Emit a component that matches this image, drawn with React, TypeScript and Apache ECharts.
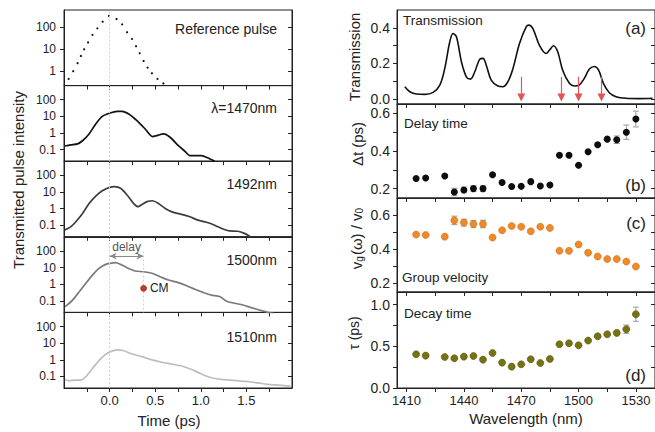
import React, { useEffect, useRef } from "react";
import * as echarts from "echarts";

const FONT = '"Liberation Sans", Arial, Helvetica, sans-serif';

// ---------- Left column: transmitted pulse intensity vs time ----------
const refTime = [-0.449, -0.399, -0.351, -0.315, -0.279, -0.236, -0.188, -0.134, -0.076, -0.007, 0.076, 0.138, 0.192, 0.246, 0.29, 0.33, 0.373, 0.417, 0.464, 0.525, 0.59];
const refIntensity = [0.45, 1.0, 2.3, 4.9, 9.8, 20, 44, 87, 174, 316, 229, 132, 58, 29, 13.5, 6.5, 2.9, 1.45, 0.81, 0.45, 0.28];

const time1470 = [-0.49, -0.478, -0.424, -0.351, -0.297, -0.225, -0.152, -0.08, 0.004, 0.083, 0.138, 0.21, 0.3, 0.39, 0.47, 0.518, 0.59, 0.663, 0.754, 0.826, 0.88, 0.935, 1.007, 1.08, 1.152];
const int1470 = [0.17, 0.17, 0.19, 0.22, 0.34, 0.87, 3.5, 10, 15.9, 20, 20, 13.8, 5.5, 1.73, 0.6, 0.69, 0.87, 0.55, 0.17, 0.079, 0.043, 0.043, 0.043, 0.031, 0.02];

const time1492 = [-0.49, -0.478, -0.424, -0.37, -0.297, -0.225, -0.152, -0.08, -0.007, 0.058, 0.12, 0.192, 0.264, 0.312, 0.355, 0.41, 0.47, 0.536, 0.609, 0.699, 0.79, 0.88, 0.971, 1.062, 1.152, 1.243, 1.315, 1.406, 1.478, 1.551];
const int1492 = [0.05, 0.056, 0.081, 0.16, 0.51, 2.0, 5.6, 11.7, 18.2, 20.9, 16.6, 6.5, 2.0, 1.29, 1.78, 2.6, 2.95, 2.0, 1.02, 0.59, 0.45, 0.32, 0.2, 0.15, 0.1, 0.059, 0.045, 0.043, 0.032, 0.019];

const time1500 = [-0.49, -0.478, -0.406, -0.333, -0.261, -0.188, -0.116, -0.043, 0.004, 0.065, 0.12, 0.192, 0.283, 0.373, 0.464, 0.554, 0.645, 0.754, 0.844, 0.935, 1.025, 1.116, 1.206, 1.279, 1.369, 1.46, 1.551, 1.641, 1.732, 1.804];
const int1500 = [0.045, 0.049, 0.11, 0.35, 1.12, 3.5, 8.9, 15.5, 17.8, 19.5, 15.5, 9.8, 6.2, 5.6, 4.5, 2.8, 1.78, 1.23, 0.81, 0.49, 0.32, 0.22, 0.18, 0.098, 0.071, 0.056, 0.039, 0.028, 0.02, 0.017];

const time1510 = [-0.49, -0.478, -0.45, -0.37, -0.315, -0.261, -0.188, -0.116, -0.043, 0.011, 0.083, 0.156, 0.246, 0.355, 0.464, 0.572, 0.681, 0.79, 0.899, 1.007, 1.116, 1.225, 1.333, 1.442, 1.551, 1.659, 1.768, 1.913, 1.985];
const int1510 = [0.063, 0.06, 0.055, 0.06, 0.06, 0.095, 0.3, 0.89, 2.1, 3.1, 3.9, 3.5, 2.2, 1.55, 0.98, 0.71, 0.55, 0.42, 0.26, 0.14, 0.083, 0.066, 0.06, 0.052, 0.046, 0.038, 0.032, 0.028, 0.025];

const cmTime = 0.373;
const cmIntensity = 0.56;
const delayArrowIntensity = 49;

const timeTicks = [-0.25, 0, 0.25, 0.5, 0.75, 1, 1.25, 1.5, 1.75];
const timeLabels = [0, 0.5, 1, 1.5];

// ---------- Right column ----------
const transWl = [1409.1, 1411.7, 1415.2, 1419.6, 1423.9, 1427.4, 1430, 1432.6, 1434.3, 1436.1, 1438.7, 1441.3, 1443.4, 1445.7, 1448.3, 1450, 1451.7, 1454.3, 1457.8, 1460.4, 1463, 1465.7, 1469.1, 1472.6, 1474, 1476.1, 1479.6, 1483, 1484.8, 1486.9, 1489.1, 1491.7, 1495.2, 1497.8, 1500.3, 1503, 1505.7, 1508.3, 1510.5, 1513, 1516.1, 1519.6, 1524.8, 1531.7, 1538.7];
const transVal = [0.069, 0.041, 0.028, 0.026, 0.037, 0.078, 0.172, 0.32, 0.368, 0.35, 0.21, 0.125, 0.112, 0.153, 0.224, 0.228, 0.19, 0.106, 0.073, 0.069, 0.097, 0.172, 0.312, 0.405, 0.415, 0.396, 0.3, 0.256, 0.275, 0.299, 0.265, 0.162, 0.088, 0.073, 0.078, 0.116, 0.168, 0.183, 0.162, 0.088, 0.035, 0.013, 0.004, 0.002, 0.004];
const arrowWl = [1470, 1491, 1500, 1512];

const wavelengths = [1415, 1420, 1430, 1435, 1440, 1445, 1450, 1455, 1460, 1465, 1470, 1475, 1480, 1485, 1490, 1495, 1500, 1505, 1510, 1515, 1520, 1525, 1530];
const delayTime = [0.254, 0.256, 0.267, 0.182, 0.193, 0.2, 0.2, 0.274, 0.232, 0.211, 0.212, 0.237, 0.214, 0.219, 0.377, 0.377, 0.324, 0.396, 0.433, 0.463, 0.46, 0.5, 0.57];
const delayErr = [0, 0, 0, 0.02, 0.015, 0.015, 0.015, 0, 0, 0, 0, 0, 0, 0, 0, 0, 0, 0, 0, 0, 0.02, 0.038, 0.042];
const groupVelocity = [0.486, 0.484, 0.474, 0.569, 0.556, 0.548, 0.548, 0.469, 0.511, 0.536, 0.532, 0.505, 0.532, 0.525, 0.391, 0.391, 0.428, 0.38, 0.358, 0.343, 0.343, 0.328, 0.299];
const groupVelocityErr = [0, 0, 0, 0.025, 0.02, 0.02, 0.022, 0, 0, 0, 0, 0, 0, 0, 0, 0, 0, 0, 0, 0, 0, 0, 0];
const decayTime = [0.404, 0.388, 0.372, 0.356, 0.376, 0.384, 0.34, 0.42, 0.304, 0.256, 0.284, 0.344, 0.3, 0.348, 0.524, 0.536, 0.512, 0.568, 0.62, 0.644, 0.66, 0.704, 0.884];
const decayErr = [0, 0, 0, 0, 0, 0, 0, 0, 0, 0, 0, 0, 0, 0, 0, 0, 0, 0, 0, 0, 0, 0.05, 0.085];

const wlTicks = [1410, 1425, 1440, 1455, 1470, 1485, 1500, 1515, 1530];
const wlLabels = [1410, 1440, 1470, 1500, 1530];

// ---------- layout ----------
const AX = "#222";
const L_LEFT = 64, L_WIDTH = 228, TOP = 10, PH = 75.6;
const R_LEFT = 397, R_WIDTH = 259;

const logFmt = (v: number) => {
  const p = Math.round(v);
  return p < 0 ? Math.pow(10, p).toFixed(-p) : String(Math.pow(10, p));
};
const fix1 = (v: number) => Number(v).toFixed(1);

function makeX(gridIndex: number, min: number, max: number, ticks: number[], labels: number[], showLabels: boolean, fmt: (v: number) => string) {
  return {
    type: "value", gridIndex, min, max, position: "bottom",
    axisLine: { show: true, onZero: false, lineStyle: { color: AX, width: 1 } },
    axisTick: { show: true, inside: false, length: 4, customValues: ticks, lineStyle: { color: AX } },
    axisLabel: { show: showLabels, customValues: labels, formatter: fmt, fontSize: 13, color: AX, fontFamily: FONT, margin: 6 },
    splitLine: { show: false },
  };
}
function makeY(gridIndex: number, min: number, max: number, ticks: number[], labels: number[], fmt: (v: number) => string, fontSize: number, margin: number) {
  return {
    type: "value", gridIndex, min, max, position: "left",
    axisLine: { show: true, onZero: false, lineStyle: { color: AX, width: 1 } },
    axisTick: { show: true, inside: false, length: 4, customValues: ticks, lineStyle: { color: AX } },
    axisLabel: { show: true, customValues: labels, formatter: fmt, fontSize, color: AX, fontFamily: FONT, margin },
    splitLine: { show: false },
  };
}
function makeYRight(gridIndex: number, min: number, max: number, ticks: number[]) {
  return {
    type: "value", gridIndex, min, max, position: "right",
    axisLine: { show: true, onZero: false, lineStyle: { color: AX, width: 1 } },
    axisTick: { show: true, inside: true, length: 4, customValues: ticks, lineStyle: { color: AX } },
    axisLabel: { show: false },
    splitLine: { show: false },
  };
}

const zeroLine = {
  silent: true, symbol: "none", label: { show: false },
  lineStyle: { type: [2, 2], color: "#d2d2d2", width: 1 },
  data: [{ xAxis: 0 }],
};

function errorBars(gridIndex: number, vals: number[], errs: number[]) {
  return {
    type: "custom", xAxisIndex: gridIndex, yAxisIndex: gridIndex, z: 1, silent: true,
    renderItem: (_p: any, api: any) => {
      const x = api.value(0), y = api.value(1), e = api.value(2);
      const hi = api.coord([x, y + e]);
      const lo = api.coord([x, y - e]);
      const w = 3;
      const st = { stroke: "#9a9a9a", lineWidth: 1 };
      return {
        type: "group",
        children: [
          { type: "line", shape: { x1: hi[0], y1: hi[1], x2: lo[0], y2: lo[1] }, style: st },
          { type: "line", shape: { x1: hi[0] - w, y1: hi[1], x2: hi[0] + w, y2: hi[1] }, style: st },
          { type: "line", shape: { x1: lo[0] - w, y1: lo[1], x2: lo[0] + w, y2: lo[1] }, style: st },
        ],
      };
    },
    data: wavelengths.map((w, i) => [w, vals[i], errs[i]]).filter((d) => d[2] > 0),
  };
}

function buildOption() {
  const grids: any[] = [];
  const xAxes: any[] = [];
  const yMain: any[] = [];
  const yRight: any[] = [];
  const series: any[] = [];

  const leftDefs = [
    { min: -0.65, max: 2.77, labels: [0, 1, 2] },
    { min: -1.7, max: 2.85, labels: [-1, 0, 1, 2] },
    { min: -1.7, max: 2.85, labels: [-1, 0, 1, 2] },
    { min: -1.7, max: 2.85, labels: [-1, 0, 1, 2] },
    { min: -1.7, max: 2.85, labels: [-1, 0, 1, 2] },
  ];
  leftDefs.forEach((d, i) => {
    grids.push({ left: L_LEFT, top: TOP + i * PH, width: L_WIDTH, height: PH, show: true, borderColor: AX, borderWidth: 1 });
    xAxes.push(makeX(i, -0.5, 2.0, timeTicks, timeLabels, i === 4, fix1));
    yMain.push(makeY(i, d.min, d.max, d.labels, d.labels, logFmt, 12, 8));
    yRight.push(makeYRight(i, d.min, d.max, d.labels));
  });

  const rightDefs = [
    { top: 10, h: 94, min: -0.028, max: 0.5, ticks: [0, 0.1, 0.2, 0.3, 0.4], labels: [0, 0.2, 0.4] },
    { top: 104, h: 94, min: 0.15, max: 0.65, ticks: [0.2, 0.3, 0.4, 0.5, 0.6], labels: [0.2, 0.4, 0.6] },
    { top: 198, h: 94, min: 0.15, max: 0.7, ticks: [0.2, 0.3, 0.4, 0.5, 0.6], labels: [0.2, 0.4, 0.6] },
    { top: 292, h: 96, min: 0, max: 1.15, ticks: [0, 0.25, 0.5, 0.75, 1.0], labels: [0, 0.5, 1.0] },
  ];
  rightDefs.forEach((d, j) => {
    const g = 5 + j;
    grids.push({ left: R_LEFT, top: d.top, width: R_WIDTH, height: d.h, show: true, borderColor: AX, borderWidth: 1 });
    xAxes.push(makeX(g, 1405, 1540, wlTicks, wlLabels, j === 3, (v) => String(v)));
    yMain.push(makeY(g, d.min, d.max, d.ticks, d.labels, fix1, 14, 7));
    yRight.push(makeYRight(g, d.min, d.max, d.ticks));
  });

  // left series
  series.push({
    type: "scatter", xAxisIndex: 0, yAxisIndex: 0, symbolSize: 2.2,
    itemStyle: { color: "#111", opacity: 1 },
    data: refTime.map((t, k) => [t, Math.log10(refIntensity[k])]),
    markLine: zeroLine,
  });
  const curves = [
    { t: time1470, v: int1470, color: "#111111" },
    { t: time1492, v: int1492, color: "#3d3d3d" },
    { t: time1500, v: int1500, color: "#7a7a7a" },
    { t: time1510, v: int1510, color: "#bdbdbd" },
  ];
  curves.forEach((c, k) => {
    series.push({
      type: "line", xAxisIndex: k + 1, yAxisIndex: k + 1, showSymbol: false, smooth: 0.25, clip: true,
      lineStyle: { color: c.color, width: 1.7 },
      data: c.t.map((t, n) => [t, Math.log10(c.v[n])]),
      markLine: zeroLine,
    });
  });
  // center of mass point and delay annotation (panel 1500 nm)
  const dy = Math.log10(delayArrowIntensity);
  series.push({
    type: "scatter", xAxisIndex: 3, yAxisIndex: 3, symbolSize: 6, z: 5,
    itemStyle: { color: "#c8372d", borderColor: "#7a1a14", borderWidth: 0.6, opacity: 1 },
    label: { show: true, position: "right", formatter: "CM", fontSize: 12, color: "#222", fontFamily: FONT, distance: 3 },
    data: [[cmTime, Math.log10(cmIntensity)]],
    markLine: {
      silent: true, symbolSize: [5, 7],
      lineStyle: { color: "#8a8a8a", width: 1, type: "solid" },
      label: { show: true, formatter: "delay", position: "middle", color: "#555", fontSize: 12, fontFamily: FONT, distance: 3 },
      data: [
        [{ coord: [0, dy], symbol: "arrow" }, { coord: [cmTime, dy], symbol: "arrow" }],
        [
          { coord: [cmTime, dy + 0.27], symbol: "none", lineStyle: { type: [2, 2], color: "#d2d2d2", width: 1 }, label: { show: false } },
          { coord: [cmTime, -1.7], symbol: "none" },
        ],
      ],
    },
  });

  // right series
  series.push({
    type: "line", xAxisIndex: 5, yAxisIndex: 5, showSymbol: false, smooth: 0.35,
    lineStyle: { color: "#111", width: 1.6 },
    data: transWl.map((w, k) => [w, transVal[k]]),
    markLine: {
      silent: true, symbolSize: [8, 8],
      lineStyle: { color: "#e05555", width: 1.2, type: "solid" },
      itemStyle: { color: "#e03030" },
      label: { show: false },
      data: arrowWl.map((w) => [{ coord: [w, 0.125], symbol: "none" }, { coord: [w, 0.008], symbol: "triangle" }]),
    },
  });
  series.push(errorBars(6, delayTime, delayErr));
  series.push({
    type: "scatter", xAxisIndex: 6, yAxisIndex: 6, symbolSize: 7, z: 3,
    itemStyle: { color: "#0d0d0d", opacity: 1 },
    data: wavelengths.map((w, k) => [w, delayTime[k]]),
  });
  series.push(errorBars(7, groupVelocity, groupVelocityErr));
  series.push({
    type: "scatter", xAxisIndex: 7, yAxisIndex: 7, symbolSize: 7, z: 3,
    itemStyle: { color: "#f08a26", borderColor: "#c96a12", borderWidth: 0.6, opacity: 1 },
    data: wavelengths.map((w, k) => [w, groupVelocity[k]]),
  });
  series.push(errorBars(8, decayTime, decayErr));
  series.push({
    type: "scatter", xAxisIndex: 8, yAxisIndex: 8, symbolSize: 7, z: 3,
    itemStyle: { color: "#76720f", borderColor: "#56520a", borderWidth: 0.6, opacity: 1 },
    data: wavelengths.map((w, k) => [w, decayTime[k]]),
  });

  const txt = (text: string, x: number, y: number, size: number, align = "left", extra: any = {}) => ({
    type: "text", x, y, silent: true, z: 10,
    style: { text, fontSize: size, fontFamily: FONT, fill: "#222", align, verticalAlign: "middle", ...extra },
  });
  const vtxt = (text: string, x: number, y: number, size: number, extra: any = {}) => ({
    type: "text", x, y, rotation: Math.PI / 2, silent: true, z: 10,
    style: { text, fontSize: size, fontFamily: FONT, fill: "#222", align: "center", verticalAlign: "middle", ...extra },
  });

  const graphic = [
    txt("Reference pulse", 277, 29, 14, "right"),
    txt("λ=1470nm", 277, 108, 14, "right"),
    txt("1492nm", 277, 184, 14, "right"),
    txt("1500nm", 277, 260, 14, "right"),
    txt("1510nm", 277, 337, 14, "right"),
    txt("Time (ps)", 169, 420, 15, "center"),
    vtxt("Transmitted pulse intensity", 18, 180, 15),
    txt("Transmission", 403, 20, 13.5),
    txt("(a)", 646, 28, 17, "right"),
    txt("Delay time", 404, 123, 13.5),
    txt("(b)", 646, 185, 17, "right"),
    txt("(c)", 646, 223, 17, "right"),
    txt("Group velocity", 402, 277, 13.5),
    txt("Decay time", 404, 313, 13.5),
    txt("(d)", 646, 375, 17, "right"),
    txt("Wavelength (nm)", 526, 418, 15, "center"),
    vtxt("Transmission", 354, 57, 15),
    vtxt("Δt (ps)", 357, 144, 15),
    vtxt("", 355, 238, 15, {
      text: "{a|v}{s|g}{a|(ω) / v}{s|0}",
      rich: {
        a: { fontSize: 15, fontFamily: FONT, fill: "#222", lineHeight: 18, verticalAlign: "bottom" },
        s: { fontSize: 10, fontFamily: FONT, fill: "#222", lineHeight: 18, verticalAlign: "bottom", padding: [0, 1, 0, 0] },
      },
    }),
    vtxt("τ (ps)", 354, 333, 14),
  ];

  return {
    animation: false,
    backgroundColor: "#ffffff",
    grid: grids,
    xAxis: xAxes,
    yAxis: [...yMain, ...yRight],
    series,
    graphic,
  };
}

export default function App() {
  const ref = useRef<HTMLDivElement>(null);
  useEffect(() => {
    const chart = echarts.init(ref.current!, undefined, { renderer: "svg" });
    chart.setOption(buildOption() as any);
    return () => chart.dispose();
  }, []);
  return <div ref={ref} style={{ position: "fixed", left: 0, top: 0, width: 655, height: 432 }} />;
}
